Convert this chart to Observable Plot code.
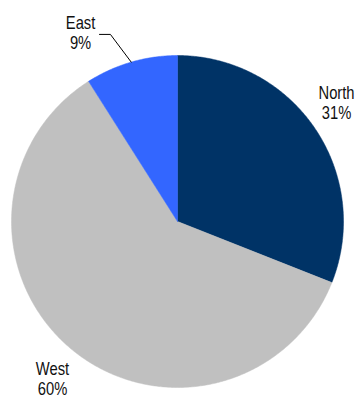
<!DOCTYPE html>
<html><head><meta charset="utf-8">
<script src="https://cdn.jsdelivr.net/npm/d3@7"></script>
<script src="https://cdn.jsdelivr.net/npm/@observablehq/plot@0.6"></script>
<style>body{margin:0;background:#fff}#chart svg{display:block}</style>
</head><body><div id="chart"></div>
<script>
// Data
const regions = ["North", "West", "East"];
const shares = [31, 60, 9];
const labels = ["North\n31%", "West\n60%", "East\n9%"];
const colors = ["#003366", "#c0c0c0", "#3366ff"];

// Slice geometry (clockwise from 12 o'clock), in unit-circle data space
const total = d3.sum(shares);
let acc = 0;
const slices = regions.map((r, i) => {
  const a0 = acc / total * 2 * Math.PI;
  acc += shares[i];
  const a1 = acc / total * 2 * Math.PI;
  return {region: r, a0, a1, mid: (a0 + a1) / 2};
});
const pts = [];
for (const s of slices) {
  pts.push({region: s.region, x: 0, y: 0});
  const n = Math.max(2, Math.ceil((s.a1 - s.a0) / (Math.PI / 360)));
  for (let k = 0; k <= n; k++) {
    const a = s.a0 + (s.a1 - s.a0) * k / n;
    pts.push({region: s.region, x: Math.sin(a), y: Math.cos(a)});
  }
  pts.push({region: s.region, x: 0, y: 0});
}

// Label layout (data space)
const labelXY = {North: [0.958, 0.825], West: [-0.753, -0.840], East: [-0.584, 1.247]};
const labelData = regions.map((r, i) => ({region: r, text: labels[i], x: labelXY[r][0], y: labelXY[r][1]}));
const east = slices[2];
const leader = [
  {x: Math.sin(east.mid), y: Math.cos(east.mid)},
  {x: -0.404, y: 1.127},
  {x: -0.470, y: 1.127}
];

const chart = Plot.plot({
  width: 355,
  height: 399,
  marginLeft: 11,
  marginRight: 12,
  marginTop: 55,
  marginBottom: 12,
  x: {domain: [-1, 1], axis: null},
  y: {domain: [-1, 1], axis: null},
  color: {domain: regions, range: colors},
  style: {fontFamily: "'Liberation Sans', Arial, sans-serif", background: "#fff"},
  marks: [
    Plot.line(pts, {x: "x", y: "y", z: "region", fill: "region", stroke: "region", strokeWidth: 0.5, curve: "linear"}),
    Plot.line(leader, {x: "x", y: "y", stroke: "#000", strokeWidth: 1}),
    Plot.text(labelData, {x: "x", y: "y", text: "text", fontSize: 18, lineHeight: 1.12, lineAnchor: "top", textAnchor: "middle", fill: "#111"})
  ]
});
// Condensed look of the reference labels: narrow the glyphs horizontally
chart.querySelectorAll('g[aria-label="text"] text').forEach(t => {
  const tr = t.getAttribute("transform") || "";
  t.setAttribute("transform", tr + " scale(0.82,1)");
});
document.getElementById("chart").appendChild(chart);
</script>
</body></html>
